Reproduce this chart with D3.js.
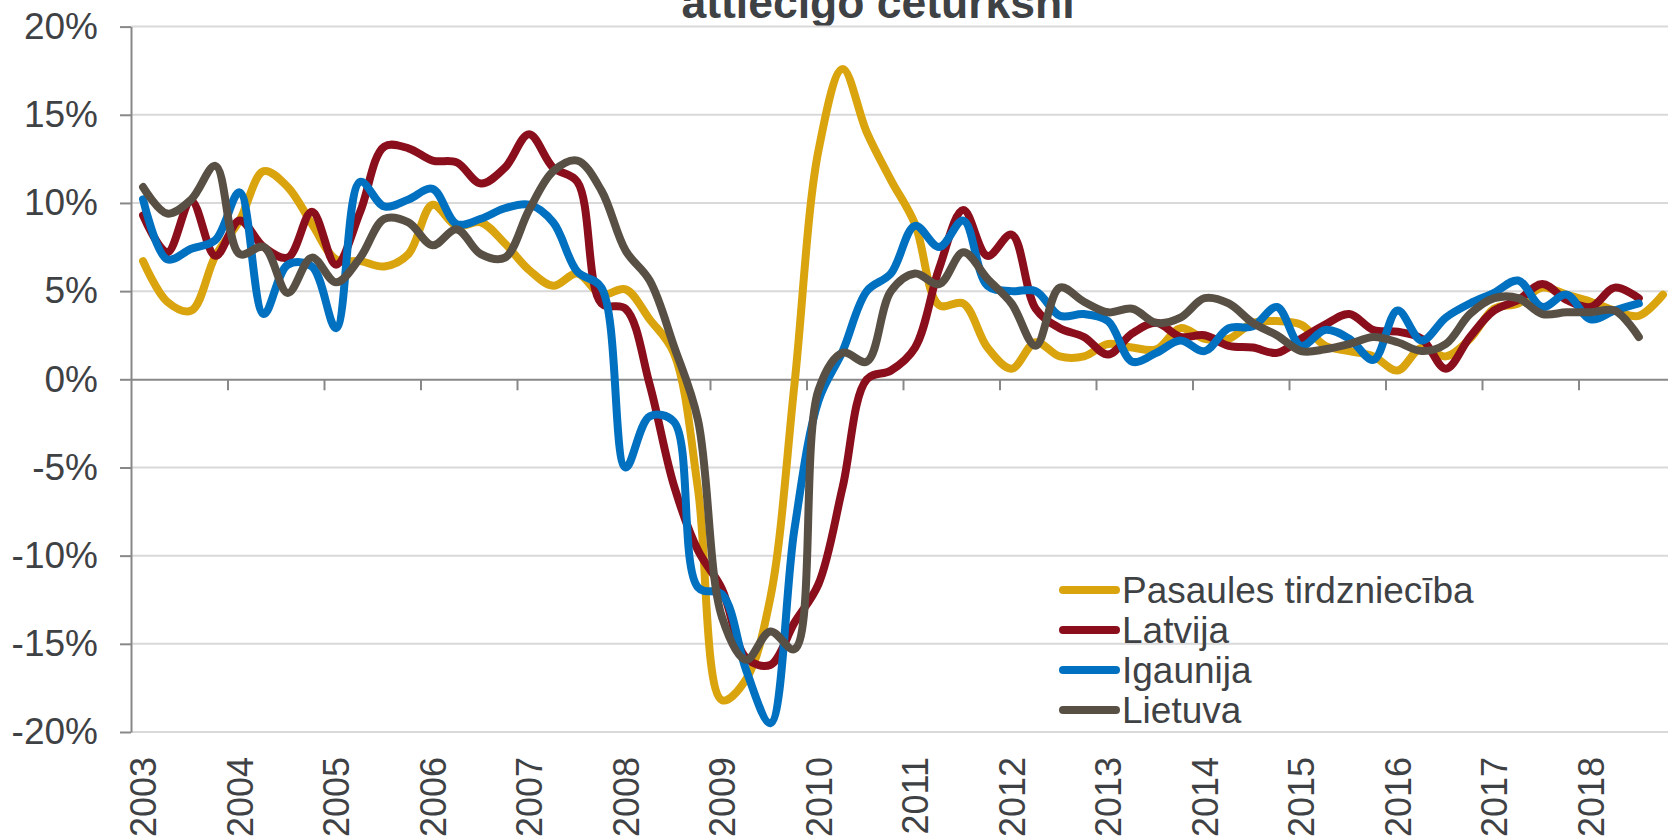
<!DOCTYPE html>
<html>
<head>
<meta charset="utf-8">
<script src="https://cdn.jsdelivr.net/npm/d3@7"></script>
<style>
  body { margin: 0; background: #fff; }
  svg { display: block; font-family: "Liberation Sans", Arial, sans-serif; }
</style>
</head>
<body>
<svg id="chart" width="1668" height="839"></svg>
<script>
// years shown on the axis (one label per 1st quarter)
const years = [2003, 2004, 2005, 2006, 2007, 2008, 2009, 2010, 2011, 2012, 2013, 2014, 2015, 2016, 2017, 2018]
const quarters = years.flatMap(y => [1, 2, 3, 4].map(q => y + "Q" + q))
const yTicks = [-20, -15, -10, -5, 0, 5, 10, 15, 20]

// y/y change, %, quarterly
const world = [6.7, 4.4, 3.9, 7.0, 9.0, 11.8, 10.9, 8.8, 6.8, 6.7, 6.4, 7.1, 9.9, 8.7, 8.9, 7.7,
	6.2, 5.3, 6.0, 4.8, 5.1, 3.4, 1.5, -6.2, -18.2, -17.0, -12.4, -0.3, 13.0, 17.6, 14.0, 11.3,
	8.8, 4.2, 4.3, 1.8, 0.6, 2.1, 1.3, 1.3, 2.0, 1.8, 1.7, 2.9, 2.3, 2.3, 3.2, 3.3,
	3.1, 1.9, 1.6, 1.3, 0.5, 1.8, 1.3, 2.3, 4.0, 4.3, 5.2, 4.8, 4.4, 3.9, 3.6, 4.8]
const latvia = [9.3, 7.2, 10.1, 7.0, 9.0, 7.5, 6.9, 9.5, 6.5, 9.5, 13.2, 13.1, 12.4, 12.3, 11.1, 12.0,
	13.9, 12.0, 11.2, 4.3, 4.0, -0.3, -6.0, -9.7, -11.9, -15.8, -16.2, -13.8, -11.6, -6.1, 0.0, 0.5,
	1.8, 6.3, 9.6, 7.0, 8.2, 4.0, 2.9, 2.4, 1.4, 2.6, 3.2, 2.4, 2.5, 1.9, 1.8, 1.5,
	2.3, 3.1, 3.7, 2.8, 2.7, 2.3, 0.6, 2.4, 3.9, 4.5, 5.4, 4.5, 4.1, 5.2, 4.6]
const estonia = [10.2, 6.8, 7.4, 7.9, 10.6, 3.7, 6.5, 6.4, 2.9, 11.2, 9.8, 10.2, 10.8, 8.8, 9.1, 9.7,
	9.9, 8.9, 6.1, 5.2, -5.0, -2.1, -2.4, -11.8, -12.2, -16.5, -19.5, -8.5, -1.2, 1.6, 5.0, 6.0,
	8.7, 7.5, 9.0, 5.3, 5.0, 5.0, 3.6, 3.7, 3.3, 1.0, 1.5, 2.2, 1.6, 2.9, 3.0, 4.1,
	1.9, 2.8, 2.3, 1.1, 3.9, 2.2, 3.5, 4.3, 4.9, 5.6, 4.1, 4.8, 3.4, 3.9, 4.3]
const lithuania = [10.9, 9.4, 10.2, 12.1, 7.1, 7.5, 4.9, 6.9, 5.5, 6.9, 9.1, 8.9, 7.6, 8.5, 7.1, 6.9,
	9.6, 11.8, 12.4, 10.7, 7.3, 5.6, 1.9, -2.3, -13.5, -15.9, -14.3, -15.3, -0.6, 1.5, 1.0, 5.0,
	6.0, 5.4, 7.2, 5.7, 4.3, 1.9, 5.2, 4.4, 3.8, 4.0, 3.2, 3.5, 4.6, 4.3, 3.2, 2.5,
	1.6, 1.7, 2.0, 2.4, 2.1, 1.6, 2.0, 3.7, 4.6, 4.6, 3.7, 3.8, 3.8, 3.9, 2.4]

const seriesNames = ["Pasaules tirdzniecība", "Latvija", "Igaunija", "Lietuva"]
const seriesColors = ["#DAA40E", "#8A0E1B", "#0070C0", "#595045"]
const seriesValues = [world, latvia, estonia, lithuania]

const svg = d3.select("#chart")
const plotLeft = 131, plotRight = 131 + 64 * 24.125, plotTop = 26.6, plotBottom = 732

const x = d3.scaleBand().domain(quarters).range([plotLeft, plotRight])
const xEdge = d3.scaleLinear().domain([0, quarters.length]).range([plotLeft, plotRight])
const y = d3.scaleLinear().domain([-20, 20]).range([plotBottom, plotTop])

// title (upper line falls outside the picture)
svg.append("text")
	.attr("x", 878).attr("y", 18)
	.attr("text-anchor", "middle")
	.style("font-size", "44.5px").style("font-weight", "bold")
	.style("fill", "#3f4245")
	.text("attiecīgo ceturksnī")

// gridlines
svg.append("g").selectAll("line")
	.data(yTicks.filter(d => d !== 0))
	.enter().append("line")
	.attr("x1", plotLeft).attr("x2", plotRight)
	.attr("y1", d => y(d)).attr("y2", d => y(d))
	.style("stroke", "#d9d9d9").style("stroke-width", 2)

// y axis
const yAxis = svg.append("g")
	.attr("transform", `translate(${plotLeft},0)`)
	.call(d3.axisLeft(y).tickValues(yTicks).tickSize(11).tickSizeOuter(0).tickPadding(22)
		.tickFormat(d => d + "%"))
yAxis.selectAll("path, line").style("stroke", "#888").style("stroke-width", 2)
yAxis.selectAll("text").style("font-size", "37px").style("fill", "#3f4245")
	.style("font-family", "'Liberation Sans', Arial, sans-serif")

// x axis on the 0% line, ticks between years
const xAxis = svg.append("g")
	.attr("transform", `translate(0,${y(0)})`)
	.call(d3.axisBottom(xEdge).tickValues(d3.range(4, 64, 4)).tickSize(11).tickSizeOuter(0).tickFormat(""))
xAxis.selectAll("path, line").style("stroke", "#888").style("stroke-width", 2)

// year labels at the bottom
svg.append("g").selectAll("text")
	.data(years)
	.enter().append("text")
	.attr("transform", d => `translate(${x(d + "Q1") + x.bandwidth() / 2},757) rotate(-90)`)
	.attr("text-anchor", "end")
	.attr("dy", "0.36em")
	.style("font-size", "36px").style("fill", "#3f4245")
	.text(d => d)

// lines
const line = d3.line()
	.x((d, i) => x(quarters[i]) + x.bandwidth() / 2)
	.y(d => y(d))
	.curve(d3.curveCatmullRom.alpha(0.5))

svg.append("g").selectAll("path")
	.data(seriesValues)
	.enter().append("path")
	.attr("d", d => line(d))
	.style("fill", "none")
	.style("stroke", (d, i) => seriesColors[i])
	.style("stroke-width", 8)
	.style("stroke-linejoin", "round")
	.style("stroke-linecap", "round")

// legend
const legend = svg.append("g").selectAll("g")
	.data(seriesNames)
	.enter().append("g")
	.attr("transform", (d, i) => `translate(1061,${590 + i * 40})`)
legend.append("line")
	.attr("x1", 2).attr("x2", 55)
	.style("stroke", (d, i) => seriesColors[i])
	.style("stroke-width", 8)
	.style("stroke-linecap", "round")
legend.append("text")
	.attr("x", 61).attr("dy", "0.36em")
	.style("font-size", "37px").style("fill", "#3f4245")
	.text(d => d)
</script>
</body>
</html>
